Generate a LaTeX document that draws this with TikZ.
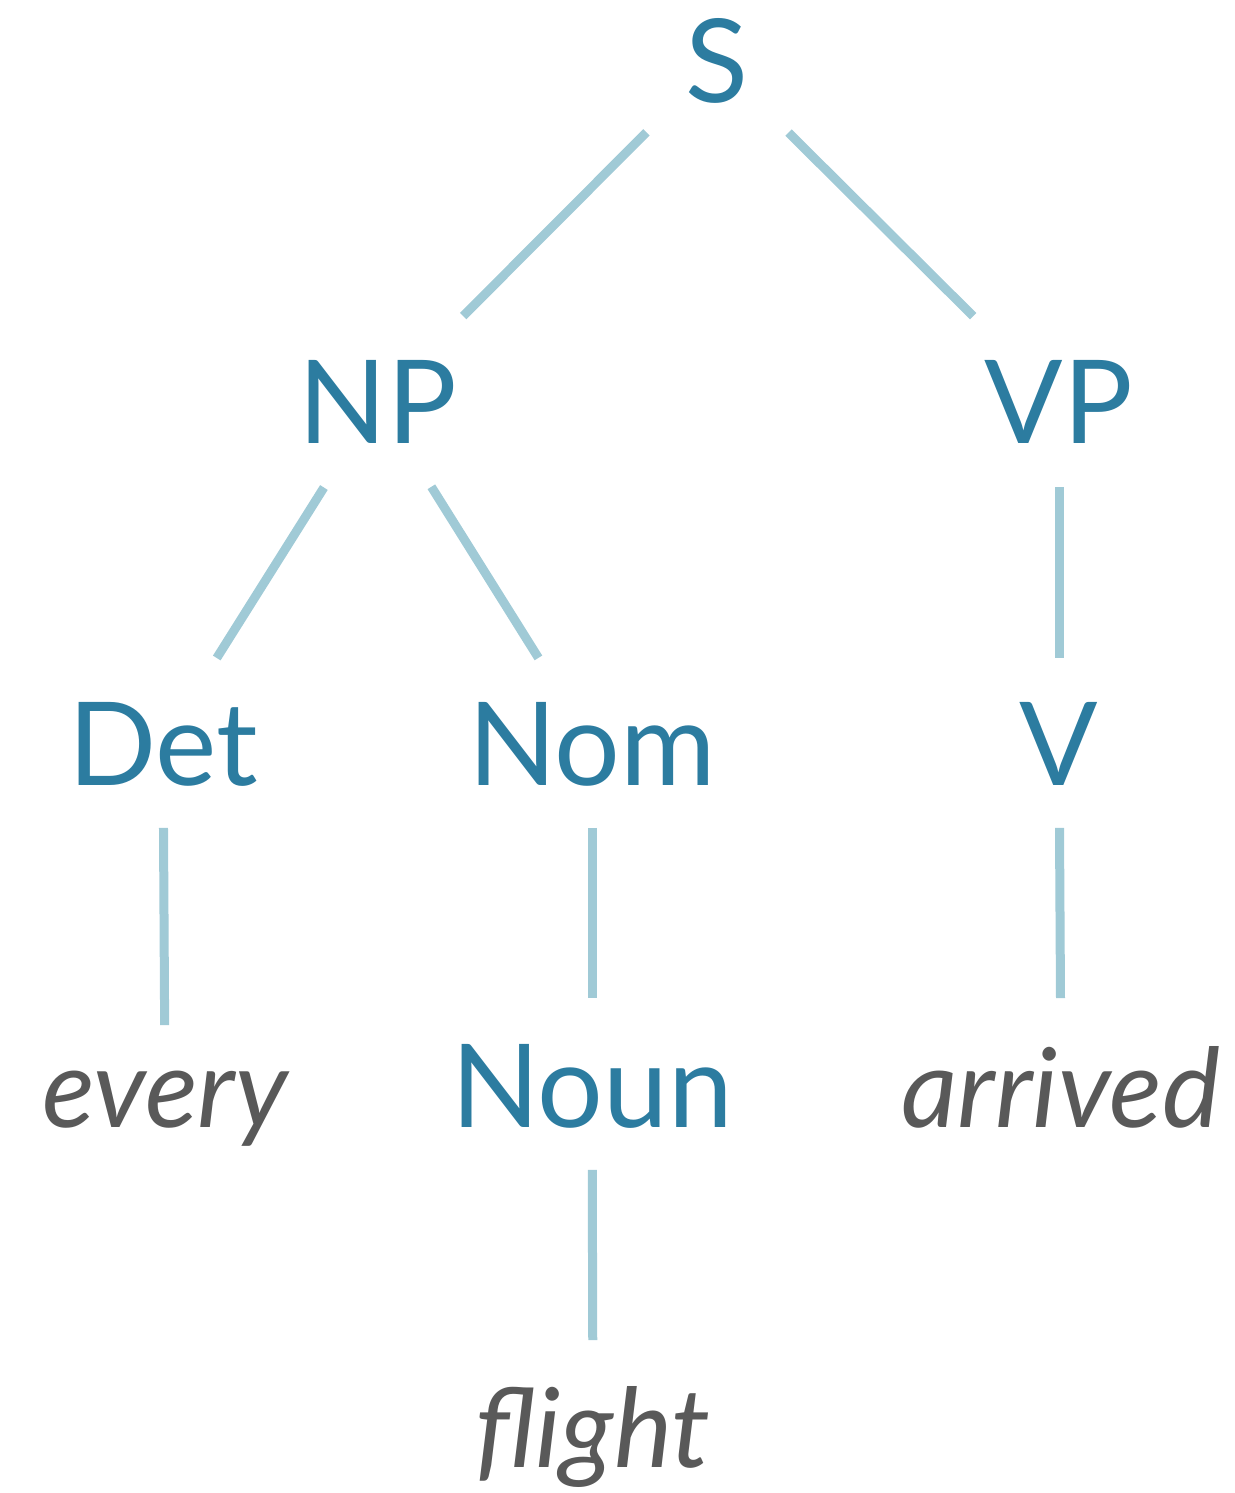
\documentclass[tikz,border=0pt]{standalone}
\usepackage{fontspec}
\setmainfont{Lato}
\definecolor{catblue}{RGB}{44,124,160}
\definecolor{edgeblue}{RGB}{160,202,214}
\definecolor{wordgray}{RGB}{89,89,89}
\begin{document}
\begin{tikzpicture}[x=0.5pt,y=-0.5pt,
  lab/.style={anchor=base,inner sep=0pt,text height=41.5pt,text depth=0pt,
    font=\fontsize{58pt}{60pt}\selectfont},
  cat/.style={lab,text=catblue},
  word/.style={lab,text=wordgray,font=\fontsize{55pt}{60pt}\selectfont\itshape},
  edge/.style={draw=edgeblue,line width=4.5pt}]
\useasboundingbox (0,0) rectangle (1235,1493);
\node[cat] (S) at (717,103) {S};
\node[cat] (NP) at (378,443) {NP};
\node[cat] (VP) at (1059,443) {VP};
\node[cat] (Det) at (163,785) {Det};
\node[cat] (Nom) at (592,785) {Nom};
\node[cat] (V) at (1059,785) {V};
\node[word] (every) at (165,1127) {every};
\node[cat] (Noun) at (592,1127) {Noun};
\node[word] (arrived) at (1061,1127) {arrived};
\node[word] (flight) at (593,1467) {flight};
\draw[edge,shorten <=50pt,shorten >=60.3pt] (S.center) -- (NP.center);
\draw[edge,shorten <=50.4pt,shorten >=60.5pt] (S.center) -- (VP.center);
\draw[edge,shorten <=50.8pt,shorten >=50.5pt] (NP.center) -- (Det.center);
\draw[edge,shorten <=50.3pt,shorten >=50.5pt] (NP.center) -- (Nom.center);
\draw[edge,shorten <=42.7pt,shorten >=42.7pt] (VP.center) -- (V.center);
\draw[edge,shorten <=42.2pt,shorten >=30.2pt] (Det.center) -- (every.center);
\draw[edge,shorten <=42.2pt,shorten >=43.7pt] (Nom.center) -- (Noun.center);
\draw[edge,shorten <=42.2pt,shorten >=43.7pt] (V.center) -- (arrived.center);
\draw[edge,shorten <=42.2pt,shorten >=42.7pt] (Noun.center) -- (flight.center);
\end{tikzpicture}
\end{document}
